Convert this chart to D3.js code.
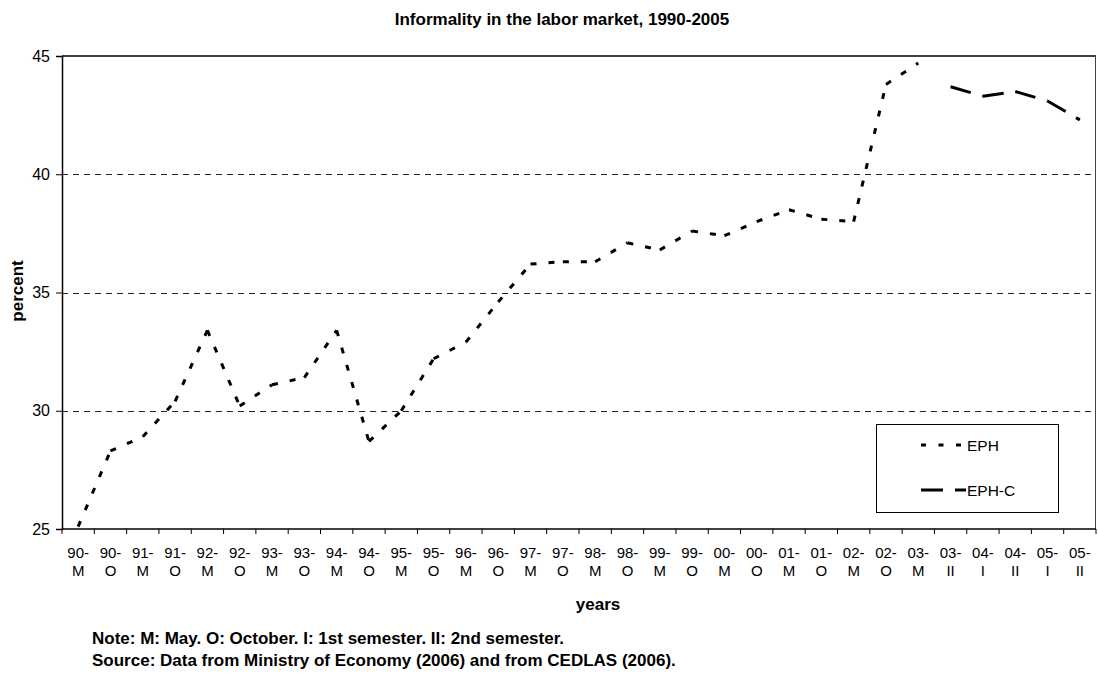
<!DOCTYPE html>
<html>
<head>
<meta charset="utf-8">
<script src="https://cdn.jsdelivr.net/npm/d3@7/dist/d3.min.js"></script>
<style>
  body { margin: 0; background: #fff; }
  svg { display: block; font-family: "Liberation Sans", Arial, sans-serif; }
</style>
</head>
<body>
<svg id="chart" width="1099" height="682"></svg>
<script>
// categories: survey wave labels (year - period)
var categories = ["90-M","90-O","91-M","91-O","92-M","92-O","93-M","93-O","94-M","94-O",
                  "95-M","95-O","96-M","96-O","97-M","97-O","98-M","98-O","99-M","99-O",
                  "00-M","00-O","01-M","01-O","02-M","02-O","03-M",
                  "03-II","04-I","04-II","05-I","05-II"];

// EPH (point survey), percent informal
var ephValues = [25.1, 28.3, 28.9, 30.4, 33.4, 30.2, 31.1, 31.4, 33.4, 28.7,
                 30.0, 32.2, 32.9, 34.6, 36.2, 36.3, 36.3, 37.1, 36.8, 37.6,
                 37.4, 38.0, 38.5, 38.1, 38.0, 43.8, 44.7,
                 null, null, null, null, null];

// EPH-C (continuous survey)
var ephcValues = [null, null, null, null, null, null, null, null, null, null,
                  null, null, null, null, null, null, null, null, null, null,
                  null, null, null, null, null, null, null,
                  43.7, 43.3, 43.5, 43.1, 42.3];

var yTicks = [25, 30, 35, 40, 45];

var svg = d3.select("#chart");
var plotLeft = 62, plotRight = 1096, plotTop = 56, plotBottom = 529;

var x = d3.scaleBand().domain(categories).range([plotLeft, plotRight]).padding(0);
var y = d3.scaleLinear().domain([25, 45]).range([plotBottom, plotTop]);

// title
svg.append("text")
	.attr("x", 562).attr("y", 25)
	.attr("text-anchor", "middle")
	.style("font-size", "17px").style("font-weight", "bold")
	.text("Informality in the labor market, 1990-2005");

// gridlines
svg.selectAll("line.grid")
	.data(yTicks.filter(function(d){ return d > 25 && d < 45; }))
	.enter().append("line")
	.attr("class", "grid")
	.attr("x1", plotLeft).attr("x2", plotRight)
	.attr("y1", function(d){ return Math.round(y(d)) + 0.5; })
	.attr("y2", function(d){ return Math.round(y(d)) + 0.5; })
	.style("stroke", "#222").style("stroke-width", 1)
	.style("stroke-dasharray", "6,5");

// frame
svg.append("line")
	.attr("x1", plotLeft).attr("x2", plotRight).attr("y1", plotTop).attr("y2", plotTop)
	.style("stroke", "#000").style("stroke-width", 1.5);
svg.append("line")
	.attr("x1", plotRight - 0.5).attr("x2", plotRight - 0.5).attr("y1", plotTop).attr("y2", plotBottom)
	.style("stroke", "#444").style("stroke-width", 1);

// y axis
var yAxis = d3.axisLeft(y).tickValues(yTicks).tickSize(6).tickPadding(6);
var gy = svg.append("g").attr("transform", "translate(" + plotLeft + ",0)").call(yAxis);
gy.attr("font-family", null).attr("font-size", null);
gy.select(".domain").style("stroke", "#000").style("stroke-width", 1.5);
gy.selectAll(".tick line").style("stroke", "#000");
gy.selectAll(".tick text").style("font-size", "16px").style("fill", "#000");

// x axis: ticks at band edges, two-line labels at band centres
var gx = svg.append("g").attr("transform", "translate(0," + plotBottom + ")");
gx.append("line").attr("x1", plotLeft).attr("x2", plotRight)
	.style("stroke", "#000").style("stroke-width", 1.5);
gx.selectAll("line.xt")
	.data(categories.concat(["end"]))
	.enter().append("line")
	.attr("class", "xt")
	.attr("x1", function(d){ return d === "end" ? plotRight : x(d); })
	.attr("x2", function(d){ return d === "end" ? plotRight : x(d); })
	.attr("y1", 0).attr("y2", 5)
	.style("stroke", "#000");
var lab = gx.selectAll("text.xl")
	.data(categories)
	.enter().append("text")
	.attr("class", "xl")
	.attr("text-anchor", "middle")
	.style("font-size", "15px");
lab.append("tspan")
	.attr("x", function(d){ return x(d) + x.bandwidth() / 2; })
	.attr("y", 29)
	.text(function(d){ return d.split("-")[0] + "-"; });
lab.append("tspan")
	.attr("x", function(d){ return x(d) + x.bandwidth() / 2; })
	.attr("y", 47)
	.text(function(d){ return d.split("-")[1]; });

// axis titles
svg.append("text")
	.attr("x", 598).attr("y", 610)
	.attr("text-anchor", "middle")
	.style("font-size", "17px").style("font-weight", "bold")
	.text("years");
svg.append("text")
	.attr("transform", "translate(23,291) rotate(-90)")
	.attr("text-anchor", "middle")
	.style("font-size", "17px").style("font-weight", "bold")
	.text("percent");

// series, drawn segment by segment so the dash pattern restarts at every point
function drawSeries(values, dash) {
	var pts = [];
	values.forEach(function(v, i){
		if (v !== null) pts.push([x(categories[i]) + x.bandwidth() / 2, y(v)]);
	});
	var segs = d3.pairs(pts);
	svg.append("g").selectAll("path")
		.data(segs)
		.enter().append("path")
		.attr("d", function(s){ return d3.line()(s); })
		.style("fill", "none").style("stroke", "#000")
		.style("stroke-width", 3)
		.style("stroke-dasharray", dash);
}
drawSeries(ephValues, "6,12");
drawSeries(ephcValues, "21,12");

// legend
var lg = svg.append("g");
lg.append("rect")
	.attr("x", 876.5).attr("y", 424.5).attr("width", 182).attr("height", 88)
	.style("fill", "#fff").style("stroke", "#000").style("stroke-width", 1);
var legendItems = [{name: "EPH", dash: "5,12.5", y: 445}, {name: "EPH-C", dash: "22,12", y: 490}];
legendItems.forEach(function(d){
	lg.append("line")
		.attr("x1", 921).attr("x2", 966).attr("y1", d.y).attr("y2", d.y)
		.style("stroke", "#000").style("stroke-width", 3)
		.style("stroke-dasharray", d.dash);
	lg.append("text")
		.attr("x", 967).attr("y", d.y + 5.5)
		.style("font-size", "15.5px")
		.text(d.name);
});

// notes
var notes = ["Note: M: May. O: October. I: 1st semester. II: 2nd semester.",
             "Source: Data from Ministry of Economy (2006) and from CEDLAS (2006)."];
svg.selectAll("text.note")
	.data(notes)
	.enter().append("text")
	.attr("class", "note")
	.attr("x", 92)
	.attr("y", function(d, i){ return 644 + i * 22; })
	.style("font-size", "17px").style("font-weight", "bold")
	.text(function(d){ return d; });
</script>
</body>
</html>
